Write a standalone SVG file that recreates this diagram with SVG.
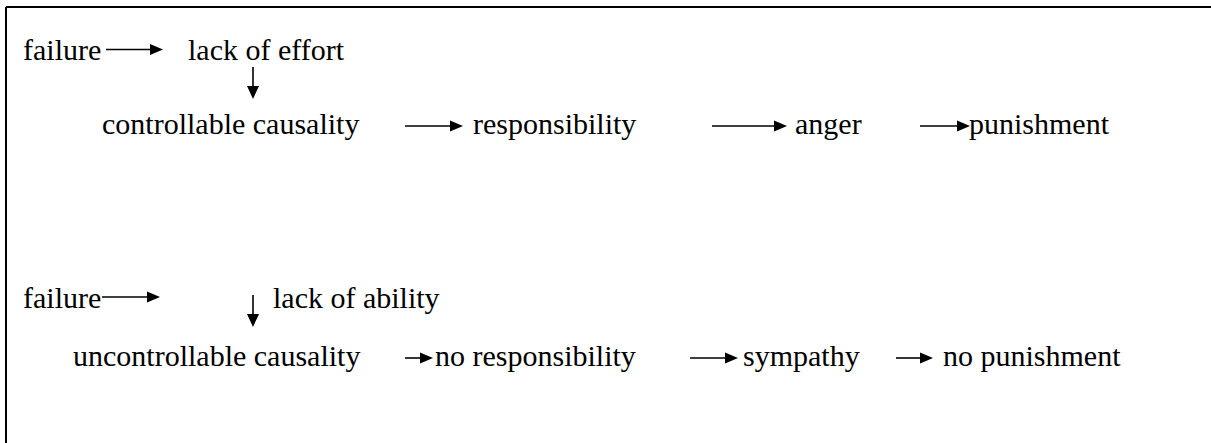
<svg xmlns="http://www.w3.org/2000/svg" width="1211" height="443" viewBox="0 0 1211 443">
<rect width="1211" height="443" fill="#fff"/>
<g id="frame" stroke="#000" stroke-width="2" fill="none">
<line x1="6" y1="7" x2="1211" y2="7"/>
<line x1="6" y1="7" x2="6" y2="443"/>
</g>
<g id="n1"><text x="23" y="60" font-size="30" font-family="Liberation Serif">failure</text></g>
<g id="n2"><text x="188" y="60" font-size="30" font-family="Liberation Serif">lack of effort</text></g>
<g id="n3"><text x="102" y="134" font-size="30" font-family="Liberation Serif">controllable causality</text></g>
<g id="n4"><text x="473" y="134" font-size="30" font-family="Liberation Serif">responsibility</text></g>
<g id="n5"><text x="795" y="134" font-size="30" font-family="Liberation Serif">anger</text></g>
<g id="n6"><text x="969" y="134" font-size="30" font-family="Liberation Serif">punishment</text></g>
<g id="n7"><text x="23" y="308" font-size="30" font-family="Liberation Serif">failure</text></g>
<g id="n8"><text x="273" y="308" font-size="30" font-family="Liberation Serif">lack of ability</text></g>
<g id="n9"><text x="73" y="366" font-size="30" font-family="Liberation Serif">uncontrollable causality</text></g>
<g id="n10"><text x="435" y="366" font-size="30" font-family="Liberation Serif">no responsibility</text></g>
<g id="n11"><text x="743" y="366" font-size="30" font-family="Liberation Serif">sympathy</text></g>
<g id="n12"><text x="943" y="366" font-size="30" font-family="Liberation Serif">no punishment</text></g>
<g id="connectors" stroke="#000" stroke-width="1.6" fill="#000">
<line x1="106" y1="49.5" x2="152" y2="49.5"/><polygon stroke="none" points="150,44 163,49.5 150,55"/>
<line x1="253" y1="67" x2="253" y2="88"/><polygon stroke="none" points="247,86 253,99 259,86"/>
<line x1="405" y1="126" x2="452" y2="126"/><polygon stroke="none" points="450,120.5 463,126 450,131.5"/>
<line x1="712" y1="126" x2="776" y2="126"/><polygon stroke="none" points="774,120.5 787,126 774,131.5"/>
<line x1="920" y1="126" x2="959" y2="126"/><polygon stroke="none" points="957,120.5 970,126 957,131.5"/>
<line x1="102" y1="297" x2="149" y2="297"/><polygon stroke="none" points="147,291.5 160,297 147,302.5"/>
<line x1="253" y1="295" x2="253" y2="316"/><polygon stroke="none" points="247,314 253,327 259,314"/>
<line x1="405" y1="358" x2="422" y2="358"/><polygon stroke="none" points="420,352.5 433,358 420,363.5"/>
<line x1="690" y1="358" x2="727" y2="358"/><polygon stroke="none" points="725,352.5 738,358 725,363.5"/>
<line x1="896" y1="358" x2="922" y2="358"/><polygon stroke="none" points="920,352.5 933,358 920,363.5"/>
</g>
</svg>
